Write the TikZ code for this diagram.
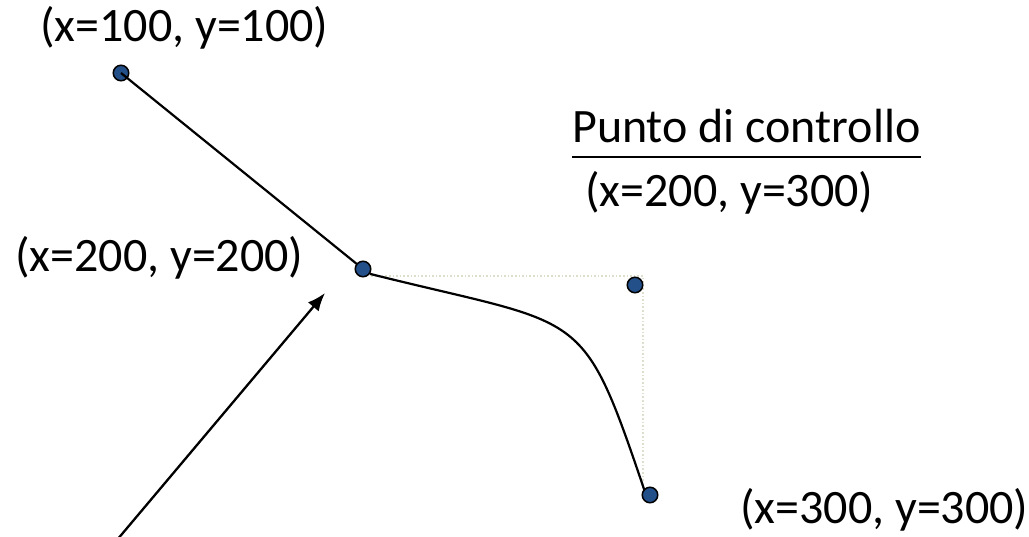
\documentclass[tikz,border=0pt]{standalone}
\usepackage{fontspec}
\setmainfont{Carlito}
\usetikzlibrary{arrows.meta}
\definecolor{dotblue}{RGB}{36,80,138}
\definecolor{guide}{RGB}{222,222,205}
\tikzset{
  pt/.style={circle,draw=black,line width=1.5pt,fill=dotblue,minimum size=15.5pt,inner sep=0pt},
  lbl/.style={anchor=base west,inner sep=0pt,font=\fontsize{48}{56}\selectfont},
  wire/.style={line width=2.2pt},
  guideline/.style={draw=guide,line width=1.6pt,dotted},
  pointer/.style={line width=2.3pt,-{Latex[length=18pt,width=14pt]}}
}
\begin{document}
\begin{tikzpicture}[x=1pt,y=-1pt]
\useasboundingbox (0,0) rectangle (1029,537);
% guides
\coordinate (gs) at (371,276);
\coordinate (gc) at (643,276);
\coordinate (ge) at (643,490);
\draw[guideline] (gs) -- (gc) -- (ge);
% points
\node[pt] (p1) at (121,73) {};
\draw[wire] (p1.center) -- (363,269);
\node[pt] (p2) at (363,269) {};
\node[pt] (cp) at (635,285) {};
\coordinate (p3c) at (650,495);
\coordinate (cend) at (645,492);
\draw[wire] (p2.-35) .. controls (586,328) and (581,303) .. (cend);
\node[pt] (p3) at (p3c) {};
% labels
\node[lbl] (l1) at (40,42) {(x=100, y=100)};
\node[lbl] (l2) at (15,272) {(x=200, y=200)};
\node[lbl] (pc) at (572,143) {Punto di controllo};
\draw[line width=2.6pt] ([yshift=-14pt]pc.base west) -- ([yshift=-14pt]pc.base east);
\node[lbl] (l3) at (585,207) {(x=200, y=300)};
\node[lbl] (l4) at (740,523) {(x=300, y=300)};
% arrow
\coordinate (as) at (117,540);
\coordinate (ae) at (325,293);
\draw[pointer] (as) -- (ae);
\end{tikzpicture}
\end{document}
